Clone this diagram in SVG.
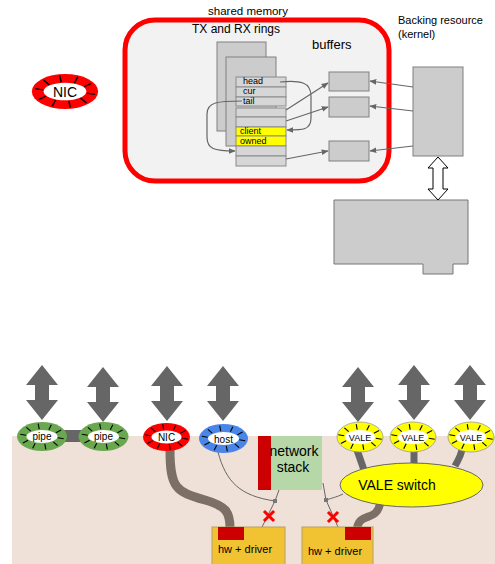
<svg xmlns="http://www.w3.org/2000/svg" xmlns:xlink="http://www.w3.org/1999/xlink" width="495" height="564" viewBox="0 0 495 564">
<style>
text{font-family:"Liberation Sans",Arial,sans-serif;fill:#000}
.box{fill:#cccccc;stroke:#808080;stroke-width:1}
.row{fill:#d6d6d6;stroke:#8a8a8a;stroke-width:1}
.yrow{fill:#ffff00;stroke:#8a8a8a;stroke-width:1}
.ln{fill:none;stroke:#666;stroke-width:1.2}
.thin{fill:none;stroke:#666;stroke-width:1}
.tick{stroke:#000;stroke-width:1.1}
.inner{fill:#fff}
.rx{stroke:#ff0000;stroke-width:3;stroke-linecap:square}
.hw{fill:#f1c232;stroke:#b8a060;stroke-width:1}
.rl{font-size:10px;text-anchor:middle}
</style>
<defs>
<marker id="ah" viewBox="0 0 10 10" refX="9" refY="5" markerWidth="7" markerHeight="7" orient="auto" markerUnits="userSpaceOnUse">
<path d="M0,1 L10,5 L0,9 z" fill="#666"/>
</marker>
<g id="ticks" class="tick">
<line x1="15.8" y1="1.3" x2="21.7" y2="2.3"/>
<line x1="11.3" y1="5.3" x2="15.6" y2="9.2"/>
<line x1="2.8" y1="7.4" x2="3.8" y2="12.8"/>
<line x1="-6.8" y1="6.8" x2="-9.3" y2="11.8"/>
<line x1="-13.9" y1="3.8" x2="-19.1" y2="6.5"/>
<line x1="-15.8" y1="-1.3" x2="-21.7" y2="-2.3"/>
<line x1="-11.3" y1="-5.3" x2="-15.6" y2="-9.2"/>
<line x1="-2.8" y1="-7.4" x2="-3.8" y2="-12.8"/>
<line x1="6.8" y1="-6.8" x2="9.3" y2="-11.8"/>
<line x1="13.9" y1="-3.8" x2="19.1" y2="-6.5"/>
</g>
<path id="dbl" d="M0,0 L16,20 L7,20 L7,35 L16,35 L0,55 L-16,35 L-7,35 L-7,20 L-16,20 Z" fill="#666666"/>
</defs>

<!-- top: shared memory area -->
<g id="shared-memory">
<rect x="125" y="20" width="264" height="161" rx="30" fill="#f2f2f2" stroke="#ff0000" stroke-width="5"/>
<text x="248" y="15" font-size="11.5" text-anchor="middle">shared memory</text>
<text x="192" y="33" font-size="12">TX and RX rings</text>
<text x="312" y="49" font-size="13">buffers</text>
</g>

<g id="nic-top">
<g transform="translate(65,91.5) scale(1.38,1.25)">
<ellipse rx="24" ry="14" fill="#ff0000"/>
<ellipse class="inner" rx="15.5" ry="7"/>
<use xlink:href="#ticks" href="#ticks"/>
</g>
<text x="65" y="97" font-size="14" text-anchor="middle">NIC</text>
</g>

<g id="rings">
<rect class="box" x="217" y="42" width="49" height="89"/>
<rect class="box" x="226" y="57" width="50" height="89"/>
<rect class="row" x="236" y="77" width="50" height="10"/>
<rect class="row" x="236" y="87" width="50" height="10"/>
<rect class="row" x="236" y="97" width="50" height="9"/>
<rect class="row" x="236" y="108" width="50" height="9"/>
<rect class="row" x="236" y="117" width="50" height="10"/>
<rect class="yrow" x="236" y="127" width="50" height="9"/>
<rect class="yrow" x="236" y="136" width="50" height="10"/>
<rect class="row" x="236" y="146" width="50" height="10"/>
<rect class="row" x="236" y="156" width="50" height="10"/>
<text x="243" y="84" font-size="9">head</text>
<text x="243" y="94" font-size="9">cur</text>
<text x="243" y="104" font-size="9">tail</text>
<text x="240" y="134" font-size="9">client</text>
<text x="240" y="144" font-size="9">owned</text>
</g>

<g id="buffers">
<rect class="box" x="329" y="72" width="40" height="19"/>
<rect class="box" x="329" y="97" width="40" height="20"/>
<rect class="box" x="329" y="141" width="40" height="20"/>
</g>

<g id="backing">
<text x="398" y="24" font-size="11">Backing resource</text>
<text x="398" y="38" font-size="11">(kernel)</text>
<rect class="box" x="413" y="67" width="50" height="89"/>
</g>

<g id="device">
<path d="M334 200 H468 V264 H453 V274 H423 V264 H334 Z" fill="#cccccc" stroke="#777" stroke-width="1"/>
</g>

<!-- bottom area -->
<rect x="12" y="436" width="483" height="128" fill="#efe1d7"/>

<g id="connectors">
<!-- top -->
<path class="ln" marker-end="url(#ah)" d="M413 87 L370 81"/>
<path class="ln" marker-end="url(#ah)" d="M413 111 L370 106"/>
<path class="ln" marker-end="url(#ah)" d="M413 146 L370 151"/>
<path class="ln" marker-end="url(#ah)" d="M286 110 L328 83"/>
<path class="ln" marker-end="url(#ah)" d="M286 121 L328 107"/>
<path class="ln" marker-end="url(#ah)" d="M286 159 L328 151"/>
<path class="ln" marker-end="url(#ah)" d="M280 82 C300 80 311 82 311 96 L311 118 C311 130 303 130 287 130"/>
<path class="ln" marker-end="url(#ah)" d="M242 101 C218 101 207 102 207 114 L207 137 C207 149 214 151 235 151"/>
<path d="M438 157 L448 168 L443 168 L443 189 L448 189 L438 200 L428 189 L433 189 L433 168 L428 168 Z" fill="#fff" stroke="#000" stroke-width="1"/>
<!-- bottom double arrows -->
<use xlink:href="#dbl" href="#dbl" x="42" y="365"/>
<use xlink:href="#dbl" href="#dbl" x="103" y="367"/>
<use xlink:href="#dbl" href="#dbl" x="167" y="366"/>
<use xlink:href="#dbl" href="#dbl" x="223" y="366"/>
<use xlink:href="#dbl" href="#dbl" x="358" y="367"/>
<use xlink:href="#dbl" href="#dbl" x="414" y="365"/>
<use xlink:href="#dbl" href="#dbl" x="470" y="365"/>
<!-- pipe link -->
<rect x="60" y="430" width="26" height="12" fill="#666"/>
<!-- brown links -->
<path d="M170 450 C170 488 176 492 205 500 C226 506 230 512 230 528" fill="none" stroke="#7b6f66" stroke-width="9"/>
<path d="M380 504 C376 522 360 512 357 528" fill="none" stroke="#7b6f66" stroke-width="8"/>
<!-- gray VALE links -->
<path d="M357 450 L364 470" fill="none" stroke="#666" stroke-width="7"/>
<path d="M414 450 L414 466" fill="none" stroke="#666" stroke-width="7"/>
<path d="M462 450 C460 458 458 460 455 466" fill="none" stroke="#666" stroke-width="7"/>
<!-- thin lines -->
<path class="thin" d="M218 452 C226 482 240 496 275 501"/>
<path class="thin" d="M279 490 L275 501 L262 527"/>
<path class="thin" d="M323 483 L326 500 L338 527"/>
<path class="thin" d="M326 500 C332 498 337 497 343 494"/>
<rect x="273" y="499" width="4" height="4" fill="#777"/>
<rect x="324" y="498" width="4" height="4" fill="#777"/>
<path class="rx" d="M265 512 L273 520 M273 512 L265 520"/>
<path class="rx" d="M329 513 L337 521 M337 513 L329 521"/>
</g>

<g id="pipe1">
<g transform="translate(42,436.5)"><ellipse rx="25" ry="14.5" fill="#6aa84f"/><ellipse class="inner" rx="15.5" ry="6.5"/><use xlink:href="#ticks" href="#ticks"/></g>
<text class="rl" x="42" y="440">pipe</text>
</g>
<g id="pipe2">
<g transform="translate(103.5,436.5)"><ellipse rx="25" ry="14.5" fill="#6aa84f"/><ellipse class="inner" rx="15.5" ry="6.5"/><use xlink:href="#ticks" href="#ticks"/></g>
<text class="rl" x="103.5" y="440">pipe</text>
</g>
<g id="nic">
<g transform="translate(166.5,437)"><ellipse rx="23.5" ry="14" fill="#ff0000"/><ellipse class="inner" rx="15" ry="6.5"/><use xlink:href="#ticks" href="#ticks"/></g>
<text class="rl" x="166.5" y="441">NIC</text>
</g>
<g id="host">
<g transform="translate(223.5,438.5)"><ellipse rx="24.5" ry="14.5" fill="#4a86e8"/><ellipse class="inner" rx="15.5" ry="6.5"/><use xlink:href="#ticks" href="#ticks"/></g>
<text class="rl" x="223.5" y="442.5">host</text>
</g>
<g id="vale1">
<g transform="translate(360,437)"><ellipse rx="23" ry="15" fill="#ffff00" stroke="#999" stroke-width="0.8"/><ellipse class="inner" rx="15" ry="7"/><use xlink:href="#ticks" href="#ticks"/></g>
<text x="360" y="440.5" font-size="9" text-anchor="middle">VALE</text>
</g>
<g id="vale2">
<g transform="translate(413,437)"><ellipse rx="23" ry="15" fill="#ffff00" stroke="#999" stroke-width="0.8"/><ellipse class="inner" rx="15" ry="7"/><use xlink:href="#ticks" href="#ticks"/></g>
<text x="413" y="440.5" font-size="9" text-anchor="middle">VALE</text>
</g>
<g id="vale3">
<g transform="translate(471,437)"><ellipse rx="23" ry="15" fill="#ffff00" stroke="#999" stroke-width="0.8"/><ellipse class="inner" rx="15" ry="7"/><use xlink:href="#ticks" href="#ticks"/></g>
<text x="471" y="440.5" font-size="9" text-anchor="middle">VALE</text>
</g>

<g id="network-stack">
<rect x="258" y="436" width="64" height="54" fill="#b6d7a8"/>
<rect x="258" y="436" width="13" height="54" fill="#cc0000"/>
<text x="294" y="456" font-size="14" text-anchor="middle">network</text>
<text x="293" y="472" font-size="14" text-anchor="middle">stack</text>
</g>

<g id="vale-switch">
<ellipse cx="411.5" cy="485" rx="71.5" ry="22" fill="#ffff00" stroke="#666" stroke-width="1"/>
<text x="397" y="490" font-size="14" text-anchor="middle">VALE switch</text>
</g>

<g id="hw1">
<rect class="hw" x="212" y="527" width="73" height="40"/>
<rect x="218" y="527" width="26" height="13" fill="#cc0000"/>
<text x="218" y="553" font-size="11">hw + driver</text>
</g>
<g id="hw2">
<rect class="hw" x="302" y="527" width="71" height="40"/>
<rect x="345" y="527" width="26" height="13" fill="#cc0000"/>
<text x="308" y="555" font-size="11">hw + driver</text>
</g>
</svg>
